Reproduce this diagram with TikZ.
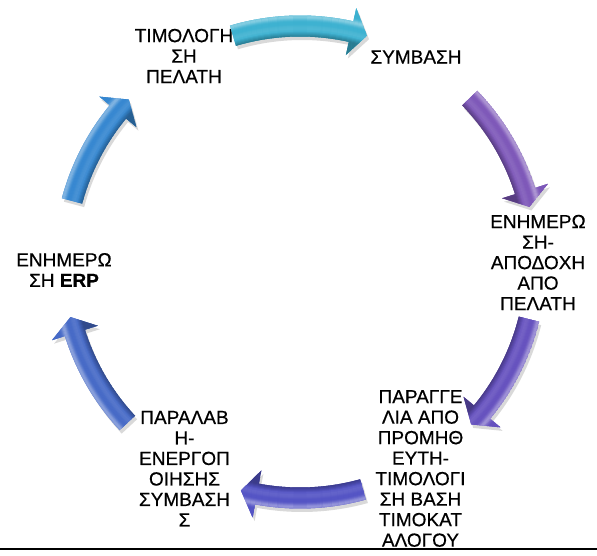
\documentclass[tikz,border=0pt]{standalone}
\usepackage{fontspec}
\setmainfont{Liberation Sans}[FakeBold=0.5]
\definecolor{cA}{RGB}{58,176,208}
\definecolor{cB}{RGB}{124,86,184}
\definecolor{cC}{RGB}{100,80,190}
\definecolor{cD}{RGB}{82,82,196}
\definecolor{cE}{RGB}{68,104,198}
\definecolor{cF}{RGB}{52,134,208}
\newcommand\cycpath[2]{(#1:246.5) arc[start angle=#1, end angle=#2+4, radius=246.5] -- (#2+4:260) -- (#2:236) -- (#2+4:212) -- (#2+4:225.5) arc[start angle=#2+4, end angle=#1, radius=225.5] -- cycle}
\newcommand\cycarrow[3]{%
  \begin{scope}[shift={(300,294)}]
    \fill[black, opacity=0.15, shift={(2,-3.5)}] \cycpath{#1}{#2};
    \begin{scope}
      \clip \cycpath{#1}{#2};
      \fill[#3] \cycpath{#1}{#2};
      \foreach \r in {210,211,...,262}{%
        \pgfmathsetmacro\tt{(\r-236)/10.5}%
        \pgfmathsetmacro\ww{int(100-38*exp(-((\tt-0.88)/0.28)^2)-10*exp(-((\tt+0.2)/0.3)^2))}%
        \pgfmathsetmacro\bb{int(100-min(30,max(0,-\tt-0.5)*60))}%
        \draw[line width=1.3, color=#3!\ww!white!\bb!black] (0,0) circle[radius=\r];
      }
    \end{scope}
  \end{scope}}
\tikzset{
  lbl/.style={align=center, font=\fontsize{19}{20.5}\selectfont, inner sep=0pt, text=black}
}
\begin{document}
\begin{tikzpicture}[x=1pt, y=1pt]
  \useasboundingbox[fill=white] (0,0) rectangle (597,556);
  % labels
  \node[lbl] (inv) at (184,500) {ΤΙΜΟΛΟΓΗ\\ΣΗ\\ΠΕΛΑΤΗ};
  \node[lbl] (con) at (416,499) {ΣΥΜΒΑΣΗ};
  \node[lbl] (upd) at (538,293.5) {ΕΝΗΜΕΡΩ\\ΣΗ-\\ΑΠΟΔΟΧΗ\\ΑΠΟ\\ΠΕΛΑΤΗ};
  \node[lbl] (ord) at (420.5,87.5) {ΠΑΡΑΓΓΕ\\ΛΙΑ ΑΠΟ\\ΠΡΟΜΗΘ\\ΕΥΤΗ-\\ΤΙΜΟΛΟΓΙ\\ΣΗ ΒΑΣΗ\\ΤΙΜΟΚΑΤ\\ΑΛΟΓΟΥ};
  \node[lbl] (rec) at (184.5,87.3) {ΠΑΡΑΛΑΒ\\Η-\\ΕΝΕΡΓΟΠ\\ΟΙΗΣΗΣ\\ΣΥΜΒΑΣΗ\\Σ};
  \node[lbl] (erp) at (64,286) {ΕΝΗΜΕΡΩ\\ΣΗ \textbf{ERP}};
  % arrows
  \cycarrow{106.5}{73.5}{cA}
  \cycarrow{44}{13.5}{cB}
  \cycarrow{-14}{-43.5}{cC}
  \cycarrow{-74.5}{-104.5}{cD}
  \cycarrow{223}{193.5}{cE}
  \cycarrow{165}{136.5}{cF}
  % bottom rule
  \coordinate (rl) at (0,7);
  \coordinate (rr) at (597,7);
  \draw[line width=2.6] (rl) -- (rr);
\end{tikzpicture}
\end{document}
